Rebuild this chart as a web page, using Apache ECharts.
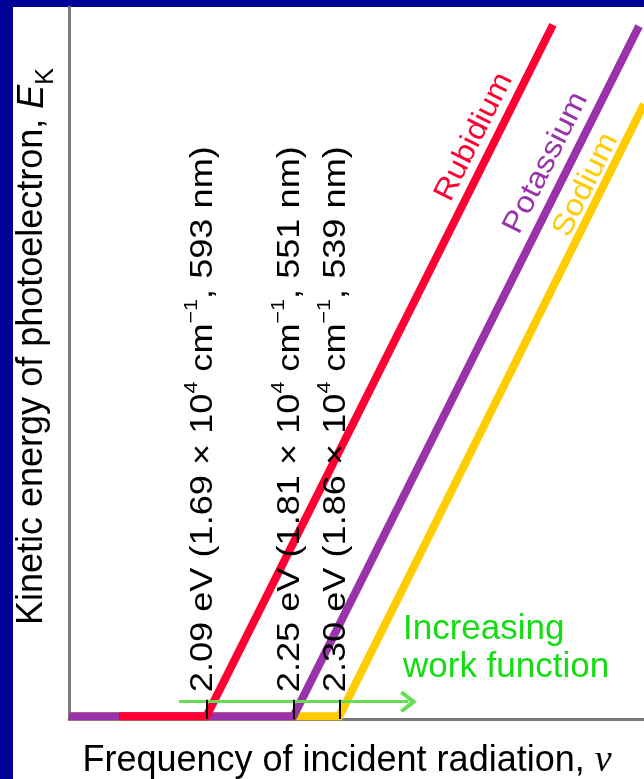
<!DOCTYPE html>
<html><head><meta charset="utf-8">
<script src="https://cdn.jsdelivr.net/npm/echarts@6/dist/echarts.min.js"></script>
<style>
html,body{margin:0;padding:0;background:#000099;width:644px;height:779px;overflow:hidden}
#panel{position:absolute;left:13px;top:7px;right:0;bottom:0;background:#fff}
#chart{position:absolute;left:0;top:0;width:644px;height:779px}
</style></head><body><div id="panel"></div><div id="chart"></div>
<script>
// ---------- data (schematic units: frequency 0-100, kinetic energy 0-100) ----------
const elementNames = ['Rubidium', 'Potassium', 'Sodium'];
const rubidium  = [[8.7, 0], [23.91, 0], [84.17, 97.5]];
const potassium = [[0, 0], [39.04, 0], [99.13, 97.3]];
const sodium    = [[0, 0], [47.01, 0], [100, 86.3]];
const thresholds   = [23.91, 39.04, 47.01];
const energiesEV   = ['2.09', '2.25', '2.30'];
const wavenumbers  = ['1.69', '1.81', '1.86'];
const wavelengthNM = ['593', '551', '539'];

// ---------- styles / layout ----------
const FONT = '"Liberation Sans", Arial, Helvetica, sans-serif';
const COLORS = ['#FF0033', '#9933AA', '#FFCC00'];
const LAYOUT = {
  tickTop: 2.3, yMin: -0.4,
  arrowFrom: [19.13, 2.04], arrowTo: [59.04, 2.04],
  labelDx: -3, labelDy: -24, labelScale: 1.13,
  nameCenterY: [137, 163, 185], nameOffsetX: [22.7, 24.5, 18], nameScale: 1.1
};

const chart = echarts.init(document.getElementById('chart'), null, {renderer: 'canvas'});

function lineSeries(name, data, color) {
  return {
    name, type: 'line', data, showSymbol: false, silent: true,
    lineStyle: {color, width: 8, cap: 'butt', join: 'miter'},
    itemStyle: {color}
  };
}
const chevron = 'path://M10,0 L20,13 L17.5,15.5 L10,6 L2.5,15.5 L0,13 Z';

const option = {
  animation: false,
  backgroundColor: 'transparent',
  grid: {left: 69, right: 0, top: 7, bottom: 60, containLabel: false, outerBoundsMode: 'none'},
  xAxis: {
    type: 'value', min: 0, max: 100,
    axisLine: {show: true, onZero: false, lineStyle: {color: '#7a7a7a', width: 3}},
    axisTick: {show: false}, axisLabel: {show: false}, splitLine: {show: false},
    name: '{a|Frequency of incident radiation, }{v|ν}',
    nameLocation: 'middle', nameGap: 24,
    nameTextStyle: {
      padding: [0, 19, 0, 0],
      rich: {
        a: {fontSize: 36, fontFamily: FONT, color: '#000', lineHeight: 36},
        v: {fontSize: 38, fontFamily: '"Liberation Serif", "Times New Roman", serif', fontStyle: 'italic', color: '#000', lineHeight: 36}
      }
    }
  },
  yAxis: {
    type: 'value', min: LAYOUT.yMin, max: 100,
    axisLine: {show: true, onZero: false, lineStyle: {color: '#7a7a7a', width: 3}},
    axisTick: {show: false}, axisLabel: {show: false}, splitLine: {show: false},
    name: '{a|Kinetic energy of photoelectron, }{e|E}{k|K}',
    nameLocation: 'middle', nameRotate: 90, nameGap: 10,
    nameTextStyle: {
      padding: [0, 0, 0, 33],
      rich: {
        a: {fontSize: 36, fontFamily: FONT, color: '#000', lineHeight: 36},
        e: {fontSize: 36, fontFamily: FONT, fontStyle: 'italic', color: '#000', lineHeight: 36},
        k: {fontSize: 25, fontFamily: FONT, color: '#000', padding: [28, 0, 0, 0], verticalAlign: 'top'}
      }
    }
  },
  series: [
    lineSeries('Sodium', sodium, COLORS[2]),
    lineSeries('Potassium', potassium, COLORS[1]),
    lineSeries('Rubidium', rubidium, COLORS[0]),
    {
      name: 'arrow', type: 'line', data: [], silent: true, z: 3,
      markLine: {
        silent: true, animation: false, symbol: ['none', chevron], symbolSize: [22, 17],
        label: {show: false},
        lineStyle: {color: '#66DD55', width: 3, type: 'solid'},
        emphasis: {disabled: true},
        data: [[{coord: LAYOUT.arrowFrom}, {coord: LAYOUT.arrowTo}]]
      }
    },
    {
      name: 'ticks', type: 'line', data: [], silent: true, z: 4,
      markLine: {
        silent: true, animation: false, symbol: 'none',
        label: {show: false},
        lineStyle: {color: '#000', width: 2, type: 'solid'},
        emphasis: {disabled: true},
        data: thresholds.map(t => [{coord: [t, LAYOUT.yMin]}, {coord: [t, LAYOUT.tickTop]}])
      }
    }
  ]
};
chart.setOption(option);

// ---------- text annotations positioned through the chart's scales ----------
const px = p => chart.convertToPixel({gridIndex: 0}, p);
const graphics = [];
thresholds.forEach((t, i) => {
  const p = px([t, 0]);
  graphics.push({
    type: 'text', x: p[0] + LAYOUT.labelDx, y: p[1] + LAYOUT.labelDy,
    rotation: Math.PI / 2, scaleX: LAYOUT.labelScale, scaleY: 1, z: 100, silent: true,
    style: {
      text: `${energiesEV[i]} eV (${wavenumbers[i]} × 10{s|4} cm{s|−1}, ${wavelengthNM[i]} nm)`,
      fontSize: 32, lineHeight: 42, fontFamily: FONT, fill: '#000',
      align: 'left', verticalAlign: 'middle',
      rich: {s: {fontSize: 19, lineHeight: 10, verticalAlign: 'top', fontFamily: FONT, fill: '#000'}}
    }
  });
});
[rubidium, potassium, sodium].forEach((d, i) => {
  const a = px(d[1]), b = px(d[2]);
  const ang = Math.atan2(a[1] - b[1], b[0] - a[0]);
  const yy = LAYOUT.nameCenterY[i];
  const t = (a[1] - yy) / (a[1] - b[1]);
  const xx = a[0] + t * (b[0] - a[0]);
  graphics.push({
    type: 'text', x: xx - LAYOUT.nameOffsetX[i], y: yy, rotation: ang,
    scaleX: LAYOUT.nameScale, scaleY: 1, z: 100, silent: true,
    style: {text: elementNames[i], fontSize: 30, fontFamily: FONT, fill: COLORS[i], align: 'center', verticalAlign: 'middle'}
  });
});
graphics.push({
  type: 'text', x: 403, y: 610, z: 100, silent: true,
  style: {text: 'Increasing\nwork function', fontSize: 35, lineHeight: 38, fontFamily: FONT, fill: '#11DD11', align: 'left', verticalAlign: 'top'}
});
chart.setOption({graphic: {elements: graphics}});
</script></body></html>
